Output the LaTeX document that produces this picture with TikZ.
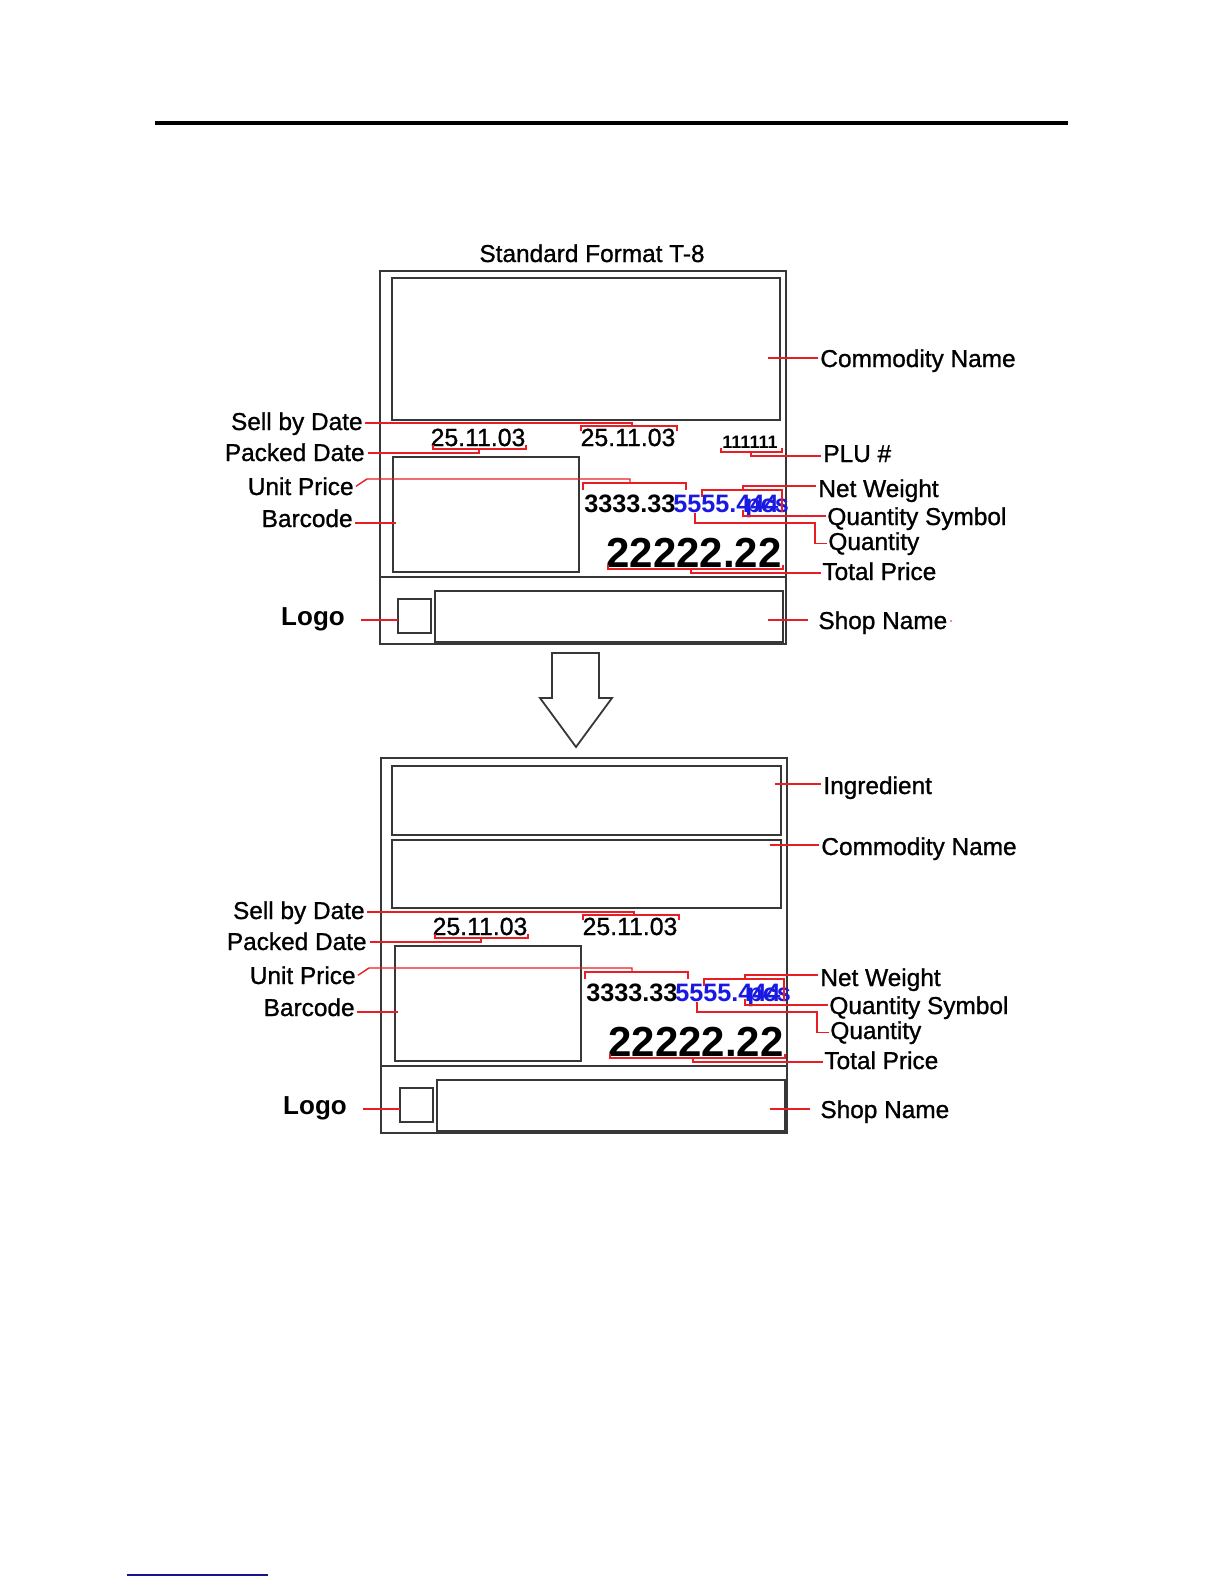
\documentclass[tikz,border=0pt]{standalone}
\usepackage{fontspec}
\setmainfont{Liberation Sans}
\newfontfamily\semib{Liberation Sans}[FakeBold=1.0]
\definecolor{leadred}{RGB}{232,30,36}
\definecolor{boxgray}{RGB}{55,55,55}
\definecolor{qblue}{RGB}{25,25,225}
\definecolor{navyline}{RGB}{20,20,140}
\tikzset{
  box/.style={draw=boxgray, line width=0.9pt},
  lead/.style={draw=leadred, line width=0.7pt},
  lbl/.style={font=\semib\fontsize{12.2}{14}\selectfont, inner sep=0pt},
  logof/.style={font=\fontsize{13}{15}\selectfont\bfseries, inner sep=0pt},
  datef/.style={font=\semib\fontsize{12.4}{14}\selectfont, inner sep=0pt},
  prc/.style={font=\fontsize{12.6}{14}\selectfont\bfseries, inner sep=0pt},
  qtyf/.style={font=\fontsize{12.6}{14}\selectfont\bfseries, text=qblue, inner sep=0pt},
  bigf/.style={font=\fontsize{21}{24}\selectfont\bfseries, inner sep=0pt},
  plu/.style={font=\fontsize{9}{11}\selectfont\bfseries, inner sep=0pt},
}
\newcommand{\lowersec}[3]{%
\begin{scope}[shift={(#2,#3)}]
  % boxes
  \draw[box] (393,457) rectangle (579,572);
  \draw[box] (380,577) -- (786,577);
  \draw[box] (398,599) rectangle (431,633);
  \draw[box] (435,591) rectangle (783,642);
  % texts
  \node[lbl,anchor=base east] (#1sell) at (363,430) {Sell by Date};
  \node[lbl,anchor=base east] (#1packed) at (365,461) {Packed Date};
  \node[lbl,anchor=base east] (#1unit) at (354,495) {Unit Price};
  \node[lbl,anchor=base east] (#1bar) at (353,527) {Barcode};
  \node[logof,anchor=base] (#1logo) at (313,625) {Logo};
  \node[datef,anchor=base] (#1dA) at (478,446) {25.11.03};
  \node[datef,anchor=base] (#1dB) at (628,446) {25.11.03};
  \node[prc,anchor=base west] (#1up) at (584,512) {3333.33};
  \node[qtyf,anchor=base west] (#1qty) at (673,512) {5555.444};
  \node[qtyf,anchor=base west] (#1pcs) at (745,512) {pcs};
  \node[bigf,anchor=base east] (#1tot) at (782,567) {22222.22};
  \node[lbl,anchor=base west] (#1nw) at (818,497) {Net Weight};
  \node[lbl,anchor=base west] (#1qs) at (827,525) {Quantity Symbol};
  \node[lbl,anchor=base west] (#1q) at (828,550) {Quantity};
  \node[lbl,anchor=base west] (#1tp) at (822,580) {Total Price};
  \node[lbl,anchor=base west] (#1shop) at (818,629) {Shop Name};
  % brackets
  \draw[lead] (581,431) -- (581,426) -- (677,426) -- (677,431);
  \draw[lead] (433,445) -- (433,449) -- (526,449) -- (526,445);
  \draw[lead] (583,490) -- (583,483) -- (686,483) -- (686,490);
  \draw[lead] (702,497) -- (702,490) -- (782,490) -- (782,512);
  \draw[lead] (608,565) -- (608,569) -- (783,569) -- (783,565);
  % connector points
  \coordinate (#1sbJ) at (632,423);
  \coordinate (#1pdJ) at (479,453);
  \coordinate (#1upK) at (367,479);
  \coordinate (#1upJ) at (630,479);
  \coordinate (#1bcE) at (396,523);
  \coordinate (#1nwJ) at (743,486);
  \coordinate (#1qsJ) at (743,516);
  \coordinate (#1qK) at (815,523);
  \coordinate (#1qJ) at (695,523);
  \coordinate (#1tpJ) at (691,573);
  \coordinate (#1lgE) at (398,620);
  \coordinate (#1shE) at (768,620);
  % connectors
  \draw[lead] ([xshift=1pt]#1sell.east |- #1sbJ) -- (#1sbJ) -- ++(0,3);
  \draw[lead] ([xshift=1.5pt]#1packed.east |- #1pdJ) -- (#1pdJ) -- ++(0,-4);
  \draw[lead] ([xshift=1pt]#1unit.east) -- (#1upK) -- (#1upJ) -- ++(0,4);
  \draw[lead] ([xshift=1pt]#1bar.east |- #1bcE) -- (#1bcE);
  \draw[lead] ([xshift=-1pt]#1nw.west |- #1nwJ) -- (#1nwJ) -- ++(0,4);
  \draw[lead] ([xshift=-0.5pt]#1qs.west |- #1qsJ) -- (#1qsJ) -- ++(0,-6);
  \draw[lead] ([xshift=-0.5pt]#1q.west) -- (#1q.west -| #1qK) -- (#1qK) -- (#1qJ) -- ++(0,-10);
  \draw[lead] ([xshift=-0.5pt]#1tp.west |- #1tpJ) -- (#1tpJ) -- ++(0,-4);
  \draw[lead] ([xshift=8pt]#1logo.east |- #1lgE) -- (#1lgE);
  \draw[lead] (#1shE) -- ([xshift=-5pt]#1shop.west |- #1shE);
\end{scope}}
\begin{document}
\begin{tikzpicture}[x=0.5pt,y=-0.5pt]
\useasboundingbox (0,0) rectangle (1224,1584);
% top rule
\draw[line width=2pt] (155,123) -- (1068,123);
% title
\node[lbl,anchor=base] (title) at (592,262) {Standard Format T-8};
% ---------- top label ----------
\draw[box] (380,271) rectangle (786,644);
\draw[box] (392,278) rectangle (780,420);
\node[lbl,anchor=base west] (comm) at (820,367) {Commodity Name};
\coordinate (commE) at (768,358);
\draw[lead] (commE) -- ([xshift=-1pt]comm.west |- commE);
\node[plu,anchor=base] (plunum) at (750,448) {111111};
\node[lbl,anchor=base west] (plu) at (823,462) {PLU \#};
\draw[lead] (721,448) -- (721,452) -- (782,452) -- (782,448);
\coordinate (pluJ) at (751,456);
\draw[lead] (pluJ) ++(0,-4) -- (pluJ) -- ([xshift=-1pt]plu.west |- pluJ);
\lowersec{t}{0}{0}
\fill[leadred] (951,621) circle (0.9);
% ---------- arrow ----------
\draw[box] (552,653) -- (599,653) -- (599,698) -- (612,698) -- (576,747)
  -- (540,698) -- (552,698) -- cycle;
% ---------- bottom label ----------
\draw[box] (381,758) rectangle (787,1133);
\draw[box] (392,766) rectangle (781,835);
\draw[box] (392,840) rectangle (781,908);
\node[lbl,anchor=base west] (ingr) at (823,794) {Ingredient};
\coordinate (ingrE) at (775,784);
\draw[lead] (ingrE) -- ([xshift=-1pt]ingr.west |- ingrE);
\node[lbl,anchor=base west] (comm2) at (821,855) {Commodity Name};
\coordinate (comm2E) at (770,845);
\draw[lead] (comm2E) -- ([xshift=-1pt]comm2.west |- comm2E);
\lowersec{b}{2}{489}
% bottom blue line
\draw[navyline, line width=0.7pt] (127,1575) -- (268,1575);
\end{tikzpicture}
\end{document}
